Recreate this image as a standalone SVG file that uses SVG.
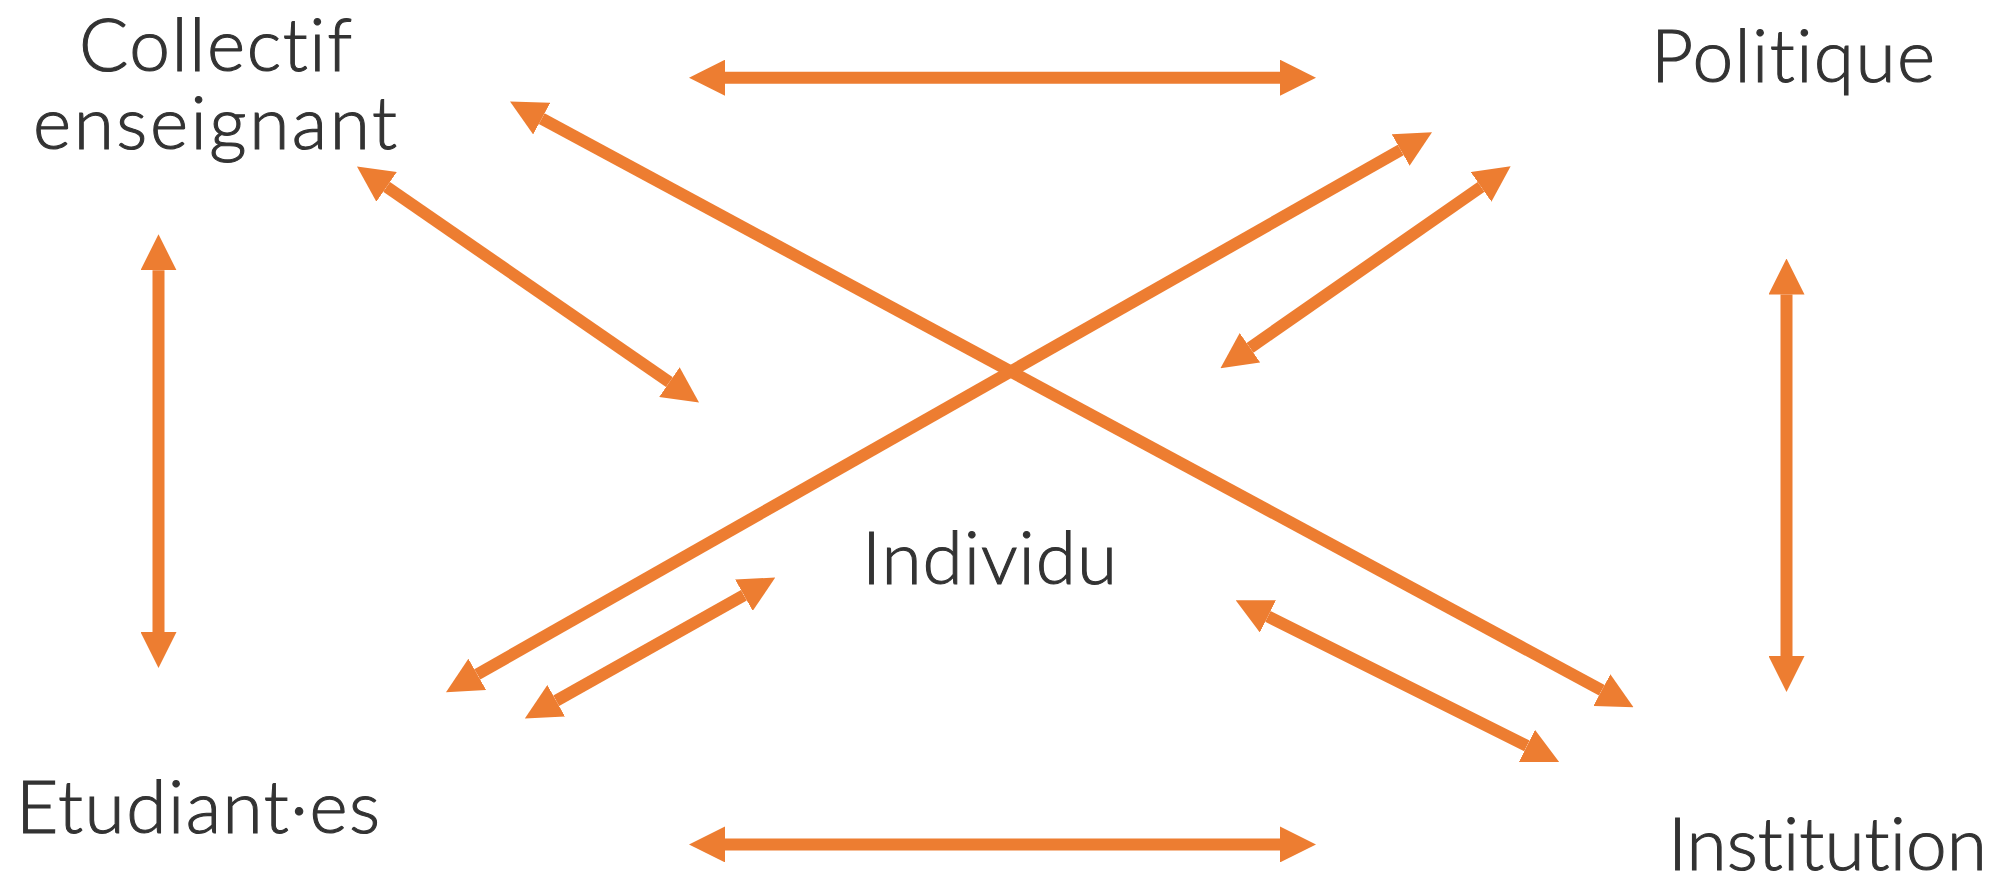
<svg xmlns="http://www.w3.org/2000/svg" width="1997" height="878" viewBox="0 0 1997 878">
<style>
.lbl{font-family:Lato,"Open Sans","Liberation Sans",sans-serif;font-size:73px;font-weight:300;fill:#333333;stroke:#333333;stroke-width:1.1;font-variant-ligatures:none;font-feature-settings:"liga" 0,"clig" 0;}
.arr{stroke:#ED7D31;stroke-width:12;fill:none;marker-start:url(#h);marker-end:url(#h);}
</style>
<defs>
<marker id="h" viewBox="0 0 3 3" refX="0" refY="1.5" markerWidth="3" markerHeight="3" orient="auto-start-reverse" markerUnits="strokeWidth">
<path d="M0,0 L3,1.5 L0,3 Z" fill="#ED7D31"/>
</marker>
</defs>
<rect width="1997" height="878" fill="#ffffff"/>
<g id="connectors">
<line class="arr" x1="725" y1="77.7" x2="1280" y2="77.7"/>
<line class="arr" x1="725" y1="844.4" x2="1280" y2="844.4"/>
<line class="arr" x1="158.5" y1="270.3" x2="158.5" y2="632"/>
<line class="arr" x1="1786.5" y1="294.5" x2="1786.5" y2="656"/>
<line class="arr" x1="386.6" y1="186.9" x2="669.4" y2="382.1"/>
<line class="arr" x1="541.7" y1="118.6" x2="1601.8" y2="690.2"/>
<line class="arr" x1="1400.7" y1="150" x2="477.3" y2="674.4"/>
<line class="arr" x1="1481.1" y1="186.9" x2="1250" y2="347.8"/>
<line class="arr" x1="743.9" y1="595.2" x2="556.2" y2="700.8"/>
<line class="arr" x1="1267.9" y1="616.4" x2="1526.9" y2="745.9"/>
</g>
<g id="collectif">
<text class="lbl" x="79" y="71" textLength="273">Collectif</text>
<text class="lbl" x="33" y="149" textLength="364">enseignant</text>
</g>
<g id="politique">
<text class="lbl" x="1651" y="82" textLength="284">Politique</text>
</g>
<g id="individu">
<text class="lbl" x="862" y="584" textLength="255">Individu</text>
</g>
<g id="etudiants">
<text class="lbl" x="16" y="833" textLength="364">Etudiant·es</text>
</g>
<g id="institution">
<text class="lbl" x="1668" y="870" textLength="319">Institution</text>
</g>
</svg>
